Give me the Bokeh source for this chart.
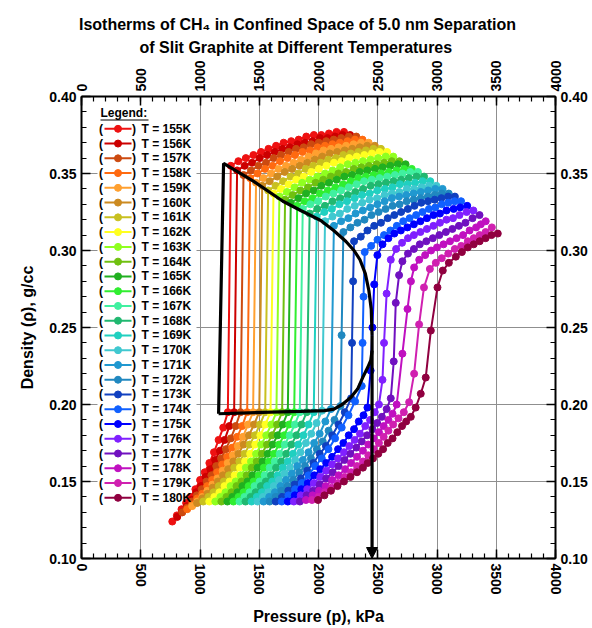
from bokeh.plotting import figure
from bokeh.models import (Range1d, LinearAxis, SingleIntervalTicker, NumeralTickFormatter,
                          Arrow, NormalHead, Title)
from bokeh.embed import file_html
from bokeh.resources import INLINE
from bokeh.core.properties import value

# ---------------- data ----------------
temperatures = [155, 156, 157, 158, 159, 160, 161, 162, 163, 164, 165, 166, 167,
                168, 169, 170, 171, 172, 173, 174, 175, 176, 177, 178, 179, 180]
colors = ["#ee1111", "#cc0000", "#cc4a10", "#ff6a10", "#ffa030", "#cc8a20", "#c8c020",
          "#ffff20", "#90ff20", "#70c010", "#20b020", "#30ee30", "#40f0a0", "#20b870",
          "#20d0c0", "#40c8d0", "#2098d0", "#2088c0", "#1040c0", "#1060ff", "#0000ff",
          "#8020ff", "#7010c0", "#c010c0", "#d020b0", "#900040"]

p155 = [766, 805, 844, 883, 922, 961, 1001, 1040, 1079, 1118, 1157, 1196, 1235, 1260, 1324, 1387, 1451, 1515, 1578, 1642, 1706, 1770, 1833, 1897, 1961, 2024, 2088, 2152, 2215]
r155 = [0.124, 0.128, 0.132, 0.136, 0.140, 0.145, 0.151, 0.156, 0.162, 0.169, 0.177, 0.185, 0.195, 0.355, 0.358, 0.360, 0.362, 0.364, 0.366, 0.368, 0.370, 0.371, 0.372, 0.374, 0.375, 0.375, 0.376, 0.377, 0.377]
p156 = [808, 848, 888, 928, 968, 1008, 1048, 1088, 1128, 1168, 1208, 1248, 1288, 1313, 1377, 1440, 1504, 1567, 1631, 1695, 1758, 1822, 1885, 1949, 2013, 2076, 2140, 2203, 2267]
r156 = [0.127, 0.130, 0.134, 0.138, 0.143, 0.147, 0.153, 0.158, 0.164, 0.170, 0.177, 0.186, 0.195, 0.352, 0.355, 0.357, 0.360, 0.362, 0.364, 0.366, 0.367, 0.369, 0.370, 0.371, 0.373, 0.373, 0.374, 0.375, 0.375]
p157 = [850, 891, 932, 973, 1014, 1055, 1096, 1137, 1178, 1219, 1260, 1301, 1342, 1367, 1430, 1494, 1557, 1621, 1684, 1748, 1811, 1875, 1938, 2002, 2065, 2129, 2192, 2256, 2319]
r157 = [0.130, 0.133, 0.137, 0.141, 0.145, 0.150, 0.154, 0.160, 0.165, 0.171, 0.178, 0.186, 0.195, 0.349, 0.352, 0.355, 0.357, 0.360, 0.362, 0.364, 0.366, 0.367, 0.369, 0.370, 0.371, 0.372, 0.373, 0.374, 0.374]
p158 = [892, 934, 976, 1019, 1061, 1103, 1145, 1187, 1229, 1272, 1314, 1356, 1398, 1423, 1486, 1549, 1613, 1676, 1739, 1802, 1865, 1929, 1992, 2055, 2118, 2181, 2245, 2308, 2371]
r158 = [0.132, 0.135, 0.139, 0.142, 0.147, 0.151, 0.156, 0.161, 0.166, 0.172, 0.179, 0.186, 0.195, 0.347, 0.350, 0.353, 0.355, 0.358, 0.360, 0.362, 0.364, 0.365, 0.367, 0.368, 0.369, 0.370, 0.371, 0.372, 0.372]
p159 = [934, 977, 1020, 1062, 1105, 1148, 1191, 1234, 1277, 1319, 1362, 1405, 1448, 1473, 1536, 1600, 1663, 1726, 1790, 1853, 1916, 1979, 2043, 2106, 2169, 2233, 2296, 2359, 2423]
r159 = [0.134, 0.137, 0.140, 0.144, 0.148, 0.152, 0.157, 0.162, 0.167, 0.173, 0.179, 0.187, 0.195, 0.344, 0.347, 0.350, 0.353, 0.355, 0.357, 0.359, 0.361, 0.363, 0.365, 0.366, 0.367, 0.368, 0.369, 0.370, 0.370]
p160 = [976, 1020, 1063, 1107, 1151, 1194, 1238, 1282, 1325, 1369, 1413, 1456, 1500, 1525, 1588, 1652, 1715, 1778, 1842, 1905, 1968, 2031, 2095, 2158, 2221, 2285, 2348, 2411, 2475]
r160 = [0.136, 0.139, 0.142, 0.146, 0.150, 0.154, 0.158, 0.163, 0.168, 0.174, 0.180, 0.187, 0.195, 0.342, 0.345, 0.348, 0.351, 0.353, 0.355, 0.357, 0.359, 0.361, 0.363, 0.364, 0.365, 0.366, 0.367, 0.368, 0.368]
p161 = [1027, 1071, 1114, 1158, 1201, 1245, 1289, 1332, 1376, 1419, 1463, 1506, 1550, 1575, 1638, 1702, 1765, 1829, 1892, 1956, 2019, 2083, 2146, 2210, 2273, 2337, 2400, 2464, 2527]
r161 = [0.137, 0.140, 0.143, 0.147, 0.150, 0.154, 0.159, 0.163, 0.168, 0.174, 0.180, 0.187, 0.195, 0.339, 0.342, 0.345, 0.348, 0.350, 0.353, 0.355, 0.357, 0.359, 0.360, 0.362, 0.363, 0.364, 0.365, 0.366, 0.366]
p162 = [1078, 1121, 1164, 1207, 1250, 1293, 1337, 1380, 1423, 1466, 1509, 1552, 1595, 1620, 1684, 1748, 1812, 1876, 1940, 2003, 2067, 2131, 2195, 2259, 2323, 2387, 2451, 2515, 2579]
r162 = [0.137, 0.140, 0.143, 0.147, 0.150, 0.154, 0.159, 0.163, 0.168, 0.174, 0.180, 0.187, 0.195, 0.337, 0.340, 0.343, 0.346, 0.348, 0.351, 0.353, 0.355, 0.357, 0.358, 0.360, 0.361, 0.362, 0.363, 0.364, 0.364]
p163 = [1129, 1172, 1215, 1258, 1301, 1344, 1387, 1430, 1473, 1516, 1559, 1602, 1645, 1670, 1734, 1798, 1862, 1926, 1990, 2055, 2119, 2183, 2247, 2311, 2375, 2439, 2503, 2567, 2631]
r163 = [0.137, 0.140, 0.143, 0.147, 0.150, 0.154, 0.159, 0.163, 0.168, 0.174, 0.180, 0.187, 0.195, 0.335, 0.338, 0.341, 0.344, 0.346, 0.348, 0.350, 0.352, 0.354, 0.356, 0.357, 0.358, 0.359, 0.360, 0.361, 0.361]
p164 = [1180, 1223, 1266, 1308, 1351, 1394, 1437, 1479, 1522, 1565, 1608, 1650, 1693, 1718, 1782, 1847, 1911, 1975, 2040, 2104, 2168, 2232, 2297, 2361, 2425, 2490, 2554, 2618, 2683]
r164 = [0.137, 0.140, 0.143, 0.147, 0.150, 0.154, 0.159, 0.163, 0.168, 0.174, 0.180, 0.187, 0.195, 0.333, 0.336, 0.339, 0.341, 0.344, 0.346, 0.348, 0.350, 0.351, 0.353, 0.354, 0.355, 0.356, 0.357, 0.358, 0.358]
p165 = [1231, 1273, 1316, 1358, 1401, 1443, 1486, 1528, 1571, 1613, 1656, 1698, 1741, 1766, 1831, 1895, 1960, 2024, 2089, 2154, 2218, 2283, 2347, 2412, 2477, 2541, 2606, 2670, 2735]
r165 = [0.137, 0.140, 0.143, 0.147, 0.150, 0.154, 0.159, 0.163, 0.168, 0.174, 0.180, 0.187, 0.195, 0.331, 0.334, 0.337, 0.339, 0.342, 0.344, 0.346, 0.348, 0.349, 0.351, 0.352, 0.353, 0.354, 0.355, 0.356, 0.356]
p166 = [1282, 1325, 1368, 1410, 1453, 1496, 1539, 1581, 1624, 1667, 1710, 1752, 1795, 1820, 1884, 1949, 2013, 2078, 2142, 2207, 2271, 2336, 2400, 2465, 2529, 2594, 2658, 2723, 2787]
r166 = [0.137, 0.140, 0.143, 0.147, 0.150, 0.154, 0.159, 0.163, 0.168, 0.174, 0.180, 0.187, 0.195, 0.329, 0.332, 0.334, 0.337, 0.339, 0.341, 0.343, 0.345, 0.347, 0.348, 0.349, 0.350, 0.351, 0.352, 0.353, 0.353]
p167 = [1333, 1375, 1418, 1460, 1503, 1545, 1588, 1630, 1672, 1715, 1757, 1800, 1842, 1867, 1932, 1997, 2061, 2126, 2191, 2256, 2321, 2385, 2450, 2515, 2580, 2645, 2709, 2774, 2839]
r167 = [0.137, 0.140, 0.143, 0.147, 0.150, 0.154, 0.159, 0.163, 0.168, 0.174, 0.180, 0.187, 0.195, 0.327, 0.330, 0.332, 0.335, 0.337, 0.339, 0.341, 0.343, 0.345, 0.346, 0.347, 0.348, 0.349, 0.350, 0.351, 0.351]
p168 = [1384, 1427, 1470, 1513, 1556, 1599, 1642, 1685, 1728, 1771, 1814, 1857, 1900, 1925, 1989, 2054, 2118, 2183, 2247, 2311, 2376, 2440, 2505, 2569, 2633, 2698, 2762, 2827, 2891]
r168 = [0.137, 0.140, 0.143, 0.147, 0.150, 0.154, 0.159, 0.163, 0.168, 0.174, 0.180, 0.187, 0.195, 0.324, 0.327, 0.329, 0.332, 0.334, 0.336, 0.338, 0.340, 0.342, 0.343, 0.344, 0.345, 0.346, 0.347, 0.348, 0.348]
p169 = [1435, 1479, 1523, 1566, 1610, 1654, 1698, 1741, 1785, 1829, 1873, 1916, 1960, 1985, 2049, 2113, 2177, 2241, 2305, 2368, 2432, 2496, 2560, 2624, 2688, 2752, 2815, 2879, 2943]
r169 = [0.137, 0.140, 0.143, 0.147, 0.150, 0.154, 0.159, 0.163, 0.168, 0.174, 0.180, 0.187, 0.195, 0.322, 0.325, 0.327, 0.330, 0.332, 0.334, 0.336, 0.337, 0.339, 0.340, 0.341, 0.343, 0.343, 0.344, 0.345, 0.345]
p170 = [1486, 1531, 1577, 1622, 1667, 1713, 1758, 1803, 1848, 1894, 1939, 1984, 2030, 2055, 2118, 2180, 2243, 2306, 2369, 2431, 2494, 2557, 2619, 2682, 2745, 2807, 2870, 2933, 2995]
r170 = [0.137, 0.140, 0.143, 0.147, 0.151, 0.155, 0.159, 0.164, 0.169, 0.175, 0.181, 0.188, 0.196, 0.319, 0.322, 0.324, 0.327, 0.329, 0.331, 0.333, 0.334, 0.336, 0.337, 0.338, 0.340, 0.340, 0.341, 0.342, 0.342]
p171 = [1537, 1584, 1632, 1679, 1726, 1774, 1821, 1868, 1916, 1963, 2010, 2058, 2105, 2130, 2191, 2252, 2313, 2374, 2436, 2497, 2558, 2619, 2680, 2741, 2802, 2863, 2925, 2986, 3047]
r171 = [0.137, 0.140, 0.143, 0.147, 0.151, 0.155, 0.160, 0.164, 0.169, 0.175, 0.181, 0.189, 0.197, 0.316, 0.319, 0.321, 0.324, 0.326, 0.328, 0.330, 0.332, 0.334, 0.335, 0.336, 0.337, 0.338, 0.339, 0.340, 0.340]
p172 = [1588, 1638, 1687, 1737, 1787, 1837, 1886, 1936, 1986, 2036, 2085, 2135, 2185, 2195, 2210, 2269, 2329, 2388, 2447, 2507, 2566, 2625, 2684, 2744, 2803, 2862, 2922, 2981, 3040, 3099]
r172 = [0.137, 0.140, 0.144, 0.147, 0.151, 0.156, 0.160, 0.165, 0.171, 0.176, 0.183, 0.190, 0.199, 0.245, 0.312, 0.315, 0.318, 0.320, 0.323, 0.325, 0.327, 0.329, 0.330, 0.332, 0.333, 0.334, 0.335, 0.336, 0.337, 0.337]
p173 = [1639, 1692, 1745, 1798, 1851, 1904, 1957, 2010, 2063, 2116, 2169, 2222, 2275, 2283, 2292, 2300, 2357, 2413, 2470, 2527, 2584, 2640, 2697, 2754, 2810, 2867, 2924, 2980, 3037, 3094, 3151]
r173 = [0.137, 0.140, 0.144, 0.148, 0.152, 0.157, 0.162, 0.168, 0.173, 0.180, 0.187, 0.195, 0.204, 0.240, 0.280, 0.306, 0.309, 0.313, 0.316, 0.318, 0.321, 0.323, 0.325, 0.327, 0.329, 0.331, 0.332, 0.333, 0.334, 0.335, 0.335]
p174 = [1690, 1746, 1803, 1859, 1915, 1971, 2028, 2084, 2140, 2196, 2253, 2309, 2365, 2372, 2380, 2390, 2444, 2498, 2553, 2607, 2661, 2715, 2769, 2824, 2878, 2932, 2986, 3040, 3095, 3149, 3203]
r174 = [0.137, 0.141, 0.145, 0.149, 0.154, 0.160, 0.165, 0.171, 0.178, 0.185, 0.193, 0.202, 0.212, 0.240, 0.270, 0.299, 0.303, 0.307, 0.310, 0.313, 0.316, 0.319, 0.321, 0.323, 0.325, 0.327, 0.328, 0.330, 0.331, 0.332, 0.332]
p175 = [1741, 1800, 1855, 1910, 1965, 2015, 2065, 2115, 2165, 2210, 2255, 2300, 2340, 2380, 2413, 2440, 2455, 2470, 2497, 2540, 2590, 2640, 2695, 2750, 2805, 2860, 2915, 2970, 3025, 3080, 3140, 3195, 3255]
r175 = [0.137, 0.141, 0.145, 0.149, 0.154, 0.158, 0.162, 0.166, 0.171, 0.175, 0.180, 0.184, 0.189, 0.193, 0.198, 0.222, 0.250, 0.278, 0.297, 0.304, 0.308, 0.311, 0.313, 0.315, 0.317, 0.319, 0.321, 0.323, 0.324, 0.326, 0.327, 0.328, 0.329]
p176 = [1792, 1850, 1905, 1960, 2015, 2065, 2115, 2165, 2215, 2260, 2305, 2350, 2395, 2435, 2475, 2510, 2540, 2553, 2575, 2610, 2655, 2705, 2755, 2805, 2860, 2915, 2970, 3025, 3080, 3135, 3190, 3250, 3307]
r176 = [0.137, 0.141, 0.145, 0.149, 0.153, 0.157, 0.161, 0.165, 0.169, 0.173, 0.177, 0.181, 0.186, 0.190, 0.195, 0.200, 0.216, 0.240, 0.272, 0.294, 0.301, 0.305, 0.308, 0.310, 0.312, 0.314, 0.316, 0.318, 0.320, 0.321, 0.323, 0.325, 0.326]
p177 = [1843, 1900, 1955, 2010, 2065, 2120, 2170, 2220, 2270, 2320, 2365, 2410, 2455, 2495, 2535, 2575, 2610, 2635, 2652, 2680, 2708, 2755, 2805, 2855, 2910, 2965, 3020, 3075, 3130, 3185, 3240, 3300, 3359]
r177 = [0.137, 0.141, 0.144, 0.148, 0.152, 0.156, 0.160, 0.164, 0.168, 0.172, 0.176, 0.180, 0.184, 0.188, 0.192, 0.197, 0.204, 0.228, 0.266, 0.284, 0.293, 0.298, 0.301, 0.304, 0.306, 0.308, 0.310, 0.312, 0.314, 0.316, 0.318, 0.321, 0.323]
p178 = [1894, 1950, 2005, 2060, 2115, 2170, 2225, 2275, 2325, 2375, 2420, 2465, 2510, 2550, 2590, 2625, 2660, 2708, 2751, 2780, 2807, 2850, 2900, 2950, 3000, 3055, 3110, 3165, 3220, 3275, 3330, 3370, 3411]
r178 = [0.138, 0.141, 0.144, 0.147, 0.151, 0.154, 0.158, 0.162, 0.166, 0.170, 0.174, 0.178, 0.182, 0.186, 0.190, 0.194, 0.200, 0.233, 0.262, 0.280, 0.289, 0.294, 0.297, 0.300, 0.302, 0.304, 0.306, 0.308, 0.310, 0.313, 0.315, 0.317, 0.319]
p179 = [1945, 2000, 2055, 2110, 2165, 2220, 2275, 2325, 2375, 2420, 2465, 2510, 2550, 2590, 2630, 2675, 2720, 2765, 2807, 2849, 2890, 2940, 2990, 3040, 3095, 3150, 3205, 3260, 3310, 3360, 3410, 3463]
r179 = [0.138, 0.140, 0.143, 0.146, 0.149, 0.153, 0.156, 0.160, 0.163, 0.167, 0.171, 0.175, 0.179, 0.183, 0.187, 0.191, 0.195, 0.2015, 0.220, 0.252, 0.276, 0.288, 0.292, 0.295, 0.298, 0.301, 0.303, 0.306, 0.308, 0.310, 0.312, 0.315]
p180 = [1996, 2050, 2105, 2160, 2215, 2270, 2325, 2375, 2415, 2460, 2505, 2545, 2584, 2625, 2665, 2705, 2740, 2779, 2820, 2863, 2905, 2948, 3004, 3049, 3100, 3159, 3210, 3260, 3310, 3360, 3410, 3460, 3513]
r180 = [0.138, 0.141, 0.144, 0.147, 0.150, 0.153, 0.156, 0.159, 0.162, 0.165, 0.168, 0.171, 0.175, 0.178, 0.182, 0.186, 0.189, 0.192, 0.198, 0.207, 0.2175, 0.248, 0.276, 0.287, 0.292, 0.296, 0.299, 0.302, 0.304, 0.306, 0.308, 0.310, 0.311]

# phase envelope (black guide curves) and arrow
dome_p = [1157, 1199, 1450, 1700, 1850, 2019, 2128, 2230, 2300, 2350, 2395, 2425, 2445, 2452]
dome_r = [0.194, 0.3565, 0.345, 0.332, 0.326, 0.3195, 0.313, 0.306, 0.300, 0.294, 0.285, 0.274, 0.262, 0.245]
base_p = [1157, 1600, 1850, 2050, 2130, 2200, 2272, 2330, 2373, 2415, 2441, 2452]
base_r = [0.194, 0.195, 0.1955, 0.196, 0.197, 0.200, 0.2045, 0.210, 0.2175, 0.224, 0.2286, 0.235]
arrow_p = 2452
arrow_from = 0.245
arrow_to = 0.100

title_lines = ["Isotherms of CH\u2084 in Confined Space of 5.0 nm Separation",
               "of Slit Graphite at Different Temperatures"]

isotherm_p = [p155, p156, p157, p158, p159, p160, p161, p162, p163, p164, p165, p166, p167,
              p168, p169, p170, p171, p172, p173, p174, p175, p176, p177, p178, p179, p180]
isotherm_r = [r155, r156, r157, r158, r159, r160, r161, r162, r163, r164, r165, r166, r167,
              r168, r169, r170, r171, r172, r173, r174, r175, r176, r177, r178, r179, r180]

# ---------------- layout ----------------
W, H = 592, 628
FL, FR, FT, FB = 81, 37, 96, 70
FW, FH = W - FL - FR, H - FT - FB
X0, X1, Y0, Y1 = 0, 4000, 0.10, 0.40
FONT = "Liberation Sans"


def sx(px):
    return X0 + (px - FL) / FW * (X1 - X0)


def sy(py):
    return Y1 - (py - FT) / FH * (Y1 - Y0)


p = figure(width=W, height=H, x_range=Range1d(X0, X1), y_range=Range1d(Y0, Y1),
           output_backend="svg", toolbar_location=None, title=None,
           min_border_left=FL, min_border_right=FR, min_border_top=FT, min_border_bottom=FB)
p.outline_line_color = None
p.background_fill_color = "white"
p.border_fill_color = "white"

xt = SingleIntervalTicker(interval=500, num_minor_ticks=5)
yt = SingleIntervalTicker(interval=0.05, num_minor_ticks=5)
bottom_axis = p.below[0]
left_axis = p.left[0]
bottom_axis.ticker = xt
left_axis.ticker = yt
left_axis.formatter = NumeralTickFormatter(format="0.00")
top_axis = LinearAxis(ticker=xt)
right_axis = LinearAxis(ticker=yt, formatter=NumeralTickFormatter(format="0.00"))
p.add_layout(top_axis, "above")
p.add_layout(right_axis, "right")

for ax in (bottom_axis, left_axis, top_axis, right_axis):
    ax.axis_line_width = 2
    ax.axis_line_color = "black"
    ax.major_tick_in = 9
    ax.major_tick_out = 0
    ax.minor_tick_in = 5
    ax.minor_tick_out = 0
    ax.major_tick_line_width = 1.5
    ax.minor_tick_line_width = 1.2
    ax.major_tick_line_color = "black"
    ax.minor_tick_line_color = "black"
    ax.major_label_text_font = FONT
    ax.major_label_text_font_style = "bold"
    ax.major_label_text_font_size = "14px"
    ax.major_label_text_color = "black"
    ax.major_label_standoff = 5
    ax.axis_label_text_font = FONT
    ax.axis_label_text_font_style = "bold"
    ax.axis_label_text_font_size = "16px"
    ax.axis_label_text_color = "black"
bottom_axis.major_label_orientation = "vertical"
top_axis.major_label_orientation = "vertical"
bottom_axis.axis_label = "Pressure (p), kPa"
bottom_axis.axis_label_standoff = 10
left_axis.axis_label = "Density (\u03c1), g/cc"
left_axis.axis_label_standoff = 10

p.xgrid.ticker = xt
p.ygrid.ticker = yt
p.grid.grid_line_color = "#8f8f8f"
p.grid.grid_line_width = 1

# title: two lines stacked above the top axis, centred on the page
title_widths = [435, 314]
for t, wdt in zip(reversed(title_lines), reversed(title_widths)):
    p.add_layout(Title(text=t, align="left", offset=(W - wdt) / 2 - FL,
                       text_font=FONT, text_font_style="bold", text_font_size="16px",
                       text_color="black", standoff=4), "above")

# white legend background (hides grid)
p.quad(left=[sx(97)], right=[sx(196)], top=[sy(103)], bottom=[sy(505)],
       fill_color="white", line_color=None)

# isotherms
for xs, ys, c in zip(isotherm_p, isotherm_r, colors):
    p.line(xs, ys, line_color=c, line_width=2)
    p.scatter(xs, ys, marker="circle", size=7, fill_color=c, line_color=c)

# phase envelope and arrow
p.line(dome_p, dome_r, line_color="black", line_width=3.2)
p.line(base_p, base_r, line_color="black", line_width=3.2)
p.add_layout(Arrow(end=NormalHead(size=11, fill_color="black", line_color="black"),
                   x_start=arrow_p, y_start=arrow_from, x_end=arrow_p, y_end=arrow_to,
                   line_width=3.2, line_color="black"))

# legend (custom, with parentheses)
rows_y = [sy(128.3 + 14.76 * j) for j in range(len(temperatures))]
labels = ["T = %dK" % t for t in temperatures]
p.text(x=[sx(100)], y=[sy(112)], text=["Legend:"], text_font=value(FONT),
       text_font_style="bold", text_font_size="12px", text_baseline="middle", text_align="left")
p.line([sx(100), sx(148)], [sy(119.5), sy(119.5)], line_color="black", line_width=1.2)
p.text(x=[sx(100.5)] * len(rows_y), y=rows_y, text=["("] * len(rows_y), text_font=value(FONT),
       text_font_style="bold", text_font_size="12px", text_baseline="middle", text_align="center")
p.text(x=[sx(133.5)] * len(rows_y), y=rows_y, text=[")"] * len(rows_y), text_font=value(FONT),
       text_font_style="bold", text_font_size="12px", text_baseline="middle", text_align="center")
p.segment(x0=[sx(104)] * len(rows_y), y0=rows_y, x1=[sx(131)] * len(rows_y), y1=rows_y,
          line_color=colors, line_width=2)
p.scatter(x=[sx(117.5)] * len(rows_y), y=rows_y, marker="circle", size=7,
          fill_color=colors, line_color=colors)
p.text(x=[sx(141)] * len(rows_y), y=rows_y, text=labels, text_font=value(FONT),
       text_font_style="bold", text_font_size="12px", text_baseline="middle", text_align="left")

open("out.html", "w").write(file_html(p, INLINE))
